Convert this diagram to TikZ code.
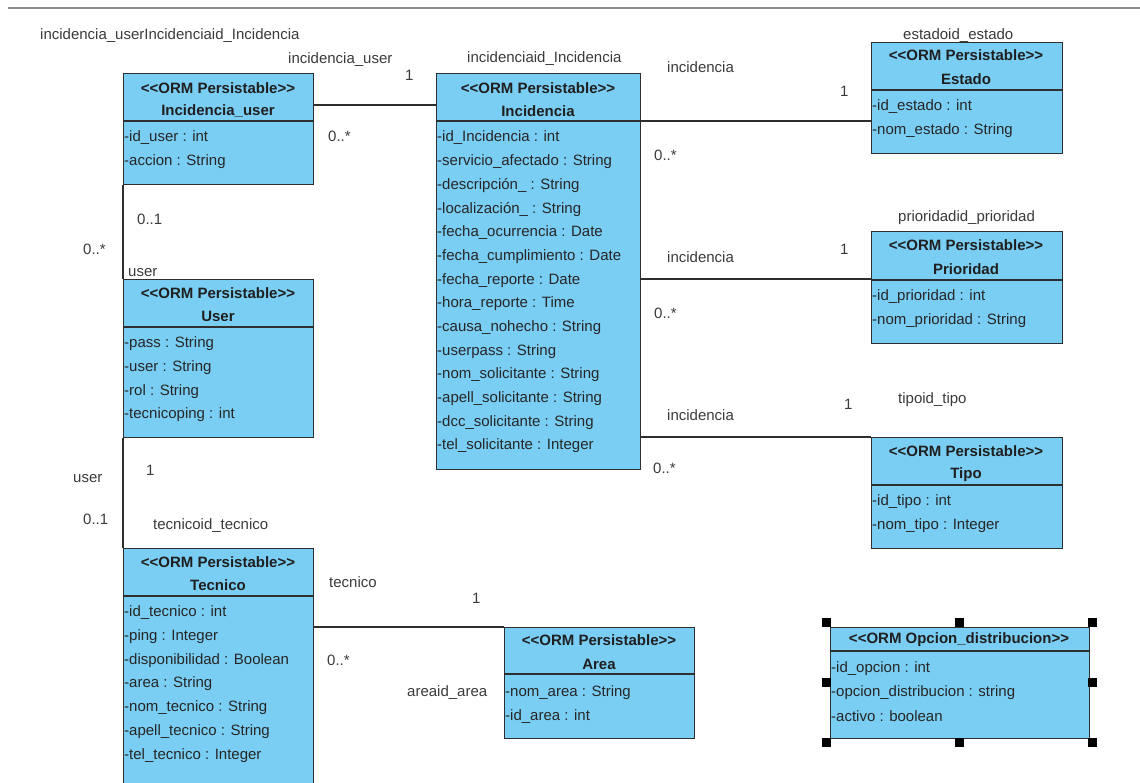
\documentclass[tikz,border=0pt]{standalone}
\usepackage{fontspec}
\setmainfont{Liberation Sans}
\definecolor{clsfill}{HTML}{7ACEF4}
\definecolor{clsline}{HTML}{2E2E2E}
\definecolor{lbl}{HTML}{3A3A3A}
\definecolor{rule}{HTML}{8C8C8C}
% stereotype brackets without the << >> guillemet ligature
\newcommand\stereo[1]{<{}<#1>{}>}
% attribute rows: node prefix, left x, first row centre y, list
\newcommand\attrlist[4]{%
  \foreach \t [count=\i from 0] in {#4}
    \node[attr] (#1-a\i) at (#2, {#3+\i*23.7}) {\t};}
\begin{document}
\begin{tikzpicture}[x=1pt,y=-1pt,
  every node/.style={font=\fontsize{15}{18}\selectfont, inner sep=0pt},
  cls/.style={draw=clsline, fill=clsfill, line width=1.3pt, anchor=north west, inner sep=0pt},
  divider/.style={draw=clsline, line width=1.3pt},
  hdr/.style={font=\fontsize{15}{18}\selectfont\bfseries, text=black!88, anchor=center, yshift=-1pt},
  attr/.style={anchor=west, text=black!85, yshift=-2pt},
  lab/.style={anchor=west, text=lbl, yshift=-2pt},
  assoc/.style={draw=clsline, line width=1.1pt},
  handle/.style={fill=black, minimum size=9pt, inner sep=0pt}
]
\useasboundingbox (0,0) rectangle (1140,782);
\clip (0,0) rectangle (1140,782);

% top rule
\draw[rule, line width=1.5pt] (8,8) -- (1140,8);

% ---------- classes ----------
% Incidencia_user
\node[cls, minimum width=190pt, minimum height=111pt] (iu) at (123,73) {};
\draw[divider] (123,121) -- (313,121);
\node[hdr] (iu-st) at (218,87) {\stereo{ORM Persistable}};
\node[hdr] (iu-nm) at (218,110) {Incidencia\_user};
\attrlist{iu}{124}{136}{-id\_user : int,-accion : String}

% Incidencia
\node[cls, minimum width=204pt, minimum height=396pt] (inc) at (436,73) {};
\draw[divider] (436,121) -- (640,121);
\node[hdr] (inc-st) at (538,87) {\stereo{ORM Persistable}};
\node[hdr] (inc-nm) at (538,110) {Incidencia};
\attrlist{inc}{437}{136}{-id\_Incidencia : int,-servicio\_afectado : String,-descripción\_ : String,-localización\_ : String,-fecha\_ocurrencia : Date,-fecha\_cumplimiento : Date,-fecha\_reporte : Date,-hora\_reporte : Time,-causa\_nohecho : String,-userpass : String,-nom\_solicitante : String,-apell\_solicitante : String,-dcc\_solicitante : String,-tel\_solicitante : Integer}

% User
\node[cls, minimum width=190pt, minimum height=158pt] (usr) at (123,279) {};
\draw[divider] (123,327) -- (313,327);
\node[hdr] (usr-st) at (218,292) {\stereo{ORM Persistable}};
\node[hdr] (usr-nm) at (218,315) {User};
\attrlist{usr}{124}{342}{-pass : String,-user : String,-rol : String,-tecnicoping : int}

% Tecnico (runs past the lower edge)
\node[cls, minimum width=190pt, minimum height=260pt] (tec) at (123,548) {};
\draw[divider] (123,596) -- (313,596);
\node[hdr] (tec-st) at (218,561) {\stereo{ORM Persistable}};
\node[hdr] (tec-nm) at (218,584) {Tecnico};
\attrlist{tec}{124}{611}{-id\_tecnico : int,-ping : Integer,-disponibilidad : Boolean,-area : String,-nom\_tecnico : String,-apell\_tecnico : String,-tel\_tecnico : Integer}

% Estado
\node[cls, minimum width=191pt, minimum height=111pt] (est) at (871,42) {};
\draw[divider] (871,90) -- (1062,90);
\node[hdr] (est-st) at (966,54) {\stereo{ORM Persistable}};
\node[hdr] (est-nm) at (966,78) {Estado};
\attrlist{est}{872}{105}{-id\_estado : int,-nom\_estado : String}

% Prioridad
\node[cls, minimum width=191pt, minimum height=112pt] (pri) at (871,231) {};
\draw[divider] (871,280) -- (1062,280);
\node[hdr] (pri-st) at (966,244) {\stereo{ORM Persistable}};
\node[hdr] (pri-nm) at (966,268) {Prioridad};
\attrlist{pri}{872}{295}{-id\_prioridad : int,-nom\_prioridad : String}

% Tipo
\node[cls, minimum width=191pt, minimum height=111pt] (tipo) at (871,437) {};
\draw[divider] (871,485) -- (1062,485);
\node[hdr] (tipo-st) at (966,450) {\stereo{ORM Persistable}};
\node[hdr] (tipo-nm) at (966,474) {Tipo};
\attrlist{tipo}{872}{500}{-id\_tipo : int,-nom\_tipo : Integer}

% Area
\node[cls, minimum width=190pt, minimum height=111pt] (area) at (504,627) {};
\draw[divider] (504,674) -- (694,674);
\node[hdr] (area-st) at (599,639) {\stereo{ORM Persistable}};
\node[hdr] (area-nm) at (599,663) {Area};
\attrlist{area}{505}{691}{-nom\_area : String,-id\_area : int}

% Opcion_distribucion (selected)
\node[cls, minimum width=259pt, minimum height=111pt] (opc) at (830,627) {};
\draw[divider] (830,651) -- (1089,651);
\node[hdr] (opc-st) at (959,639) {\stereo{ORM Opcion\_distribucion}};
\attrlist{opc}{831}{667}{-id\_opcion : int,-opcion\_distribucion : string,-activo : boolean}
\foreach \hx/\hy [count=\k] in {826/622,959/622,1092/622,826/682,1092/682,826/742,959/742,1092/742}
  \node[handle] (h\k) at (\hx,\hy) {};

% ---------- associations ----------
\coordinate (y-iu) at (0,105);
\coordinate (y-est) at (0,121);
\coordinate (y-pri) at (0,279);
\coordinate (y-tipo) at (0,437);
\draw[assoc] (iu.east |- y-iu) -- (inc.west |- y-iu);
\draw[assoc] (inc.east |- y-est) -- (est.west |- y-est);
\draw[assoc] (inc.east |- y-pri) -- (pri.west |- y-pri);
\draw[assoc] (inc.east |- y-tipo) -- (tipo.north west);
\draw[assoc] (iu.south west) -- (usr.north west);
\draw[assoc] (usr.south west) -- (tec.north west);
\draw[assoc] (tec.east |- area.north west) -- (area.north west);

% ---------- role names and multiplicities ----------
\node[lab] (l1) at (40,34) {incidencia\_userIncidenciaid\_Incidencia};
\node[lab] (l2) at (288,58) {incidencia\_user};
\node[lab] (l3) at (405,73) {1};
\node[lab] (l4) at (328,134) {0..*};
\node[lab] (l5) at (137,217) {0..1};
\node[lab] (l6) at (83,247) {0..*};
\node[lab] (l7) at (128,271) {user};
\node[lab] (l8) at (467,57) {incidenciaid\_Incidencia};

\node[lab] (l9) at (667,65) {incidencia};
\node[lab] (l10) at (840,89) {1};
\node[lab] (l11) at (654,153) {0..*};
\node[lab] (l12) at (903,34) {estadoid\_estado};

\node[lab] (l13) at (898,216) {prioridadid\_prioridad};
\node[lab] (l14) at (667,255) {incidencia};
\node[lab] (l15) at (840,247) {1};
\node[lab] (l16) at (654,311) {0..*};

\node[lab] (l17) at (844,402) {1};
\node[lab] (l18) at (898,398) {tipoid\_tipo};
\node[lab] (l19) at (667,413) {incidencia};
\node[lab] (l20) at (653,466) {0..*};

\node[lab] (l21) at (73,477) {user};
\node[lab] (l22) at (146,468) {1};
\node[lab] (l23) at (83,517) {0..1};
\node[lab] (l24) at (153,524) {tecnicoid\_tecnico};

\node[lab] (l25) at (329,580) {tecnico};
\node[lab] (l26) at (472,596) {1};
\node[lab] (l27) at (327,658) {0..*};
\node[lab] (l28) at (407,691) {areaid\_area};
\end{tikzpicture}
\end{document}
